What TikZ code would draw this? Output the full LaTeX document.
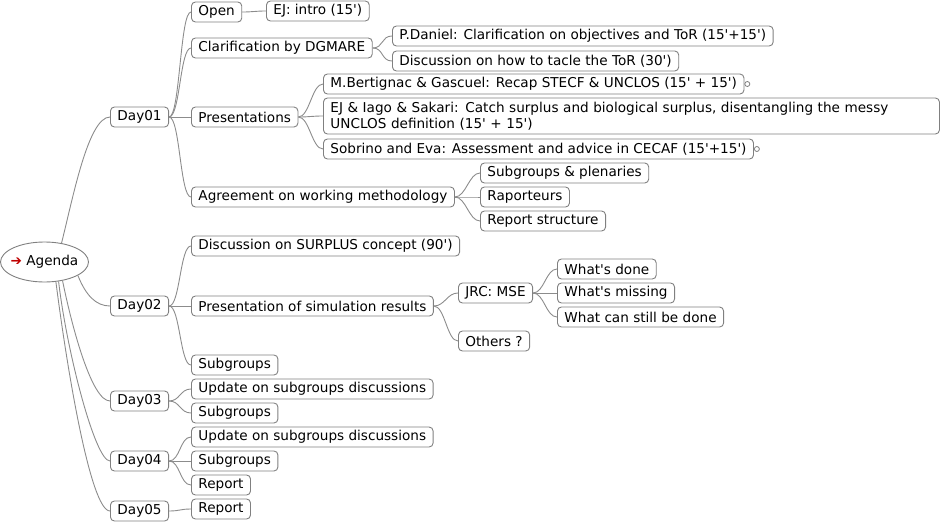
\documentclass[tikz,border=0pt]{standalone}
\usepackage{fontspec}
\newfontfamily\mmfont{DejaVu Sans}
\usetikzlibrary{shapes.geometric}
\definecolor{boxline}{HTML}{808080}
\definecolor{edgeline}{HTML}{8C8C8C}
\definecolor{arrowred}{HTML}{C00000}
\tikzset{
  mmbox/.style={draw=boxline, line width=0.9pt, rounded corners=4pt, fill=white,
    minimum height=20pt, inner xsep=7pt, inner ysep=0pt, anchor=west,
    font=\mmfont\fontsize{13.6}{16}\selectfont, text=black},
  mmroot/.style={draw=boxline, line width=0.9pt, ellipse, fill=white,
    minimum width=88pt, minimum height=40pt, inner sep=0pt},
  mmlabel/.style={inner sep=0pt, font=\mmfont\fontsize{13.6}{16}\selectfont, text=black},
  mmedge/.style={draw=edgeline, line width=0.9pt},
  foldmark/.style={circle, draw=boxline, line width=0.8pt, fill=white, inner sep=0pt, minimum size=5pt, anchor=west}
}
\newcommand{\lnk}[2]{\draw[mmedge] (#1.east) .. controls +(11,0) and +(-11,0) .. (#2.west);}
\begin{document}
\begin{tikzpicture}[x=1pt,y=-1pt]
\useasboundingbox (0,0) rectangle (940,522);
% root
\node[mmroot] (agenda) at (44.5,262) {};
\node[mmlabel] (agendatext) at (agenda.center) {\textcolor{arrowred}{➔}~Agenda};
% days
\node[mmbox] (d1) at (110,117) {Day01};
\node[mmbox] (d2) at (110,306) {Day02};
\node[mmbox] (d3) at (110,401) {Day03};
\node[mmbox] (d4) at (110,461) {Day04};
\node[mmbox] (d5) at (110,511) {Day05};
% day01
\node[mmbox] (open) at (191,12) {Open};
\node[mmbox] (intro) at (266,11) {EJ: intro (15')};
\node[mmbox] (clar) at (191,48) {Clarification by DGMARE};
\node[mmbox] (pdan) at (392,36) {P.Daniel: Clarification on objectives and ToR (15'+15')};
\node[mmbox] (disc) at (392,61) {Discussion on how to tacle the ToR (30')};
\node[mmbox] (pres) at (191,117) {Presentations};
\node[mmbox] (bert) at (323,84) {M.Bertignac \& Gascuel: Recap STECF \& UNCLOS (15' + 15')};
\node[mmbox, align=left, text width=602pt, minimum height=36pt, inner ysep=2pt] (ejia) at (323,116) {EJ \& Iago \& Sakari: Catch surplus and biological surplus, disentangling the messy\\UNCLOS definition (15' + 15')};
\node[mmbox] (sobr) at (323,149) {Sobrino and Eva: Assessment and advice in CECAF (15'+15')};
\node[foldmark] (bertf) at (bert.east) {};
\node[foldmark] (sobrf) at (sobr.east) {};
\node[mmbox] (agree) at (191,197) {Agreement on working methodology};
\node[mmbox] (subpl) at (480,173) {Subgroups \& plenaries};
\node[mmbox] (rapp) at (480,197) {Raporteurs};
\node[mmbox] (rstr) at (480,221) {Report structure};
% day02
\node[mmbox] (surp) at (191,246) {Discussion on SURPLUS concept (90')};
\node[mmbox] (sim) at (191,306) {Presentation of simulation results};
\node[mmbox] (jrc) at (458,293) {JRC: MSE};
\node[mmbox] (oth) at (458,341) {Others ?};
\node[mmbox] (wdone) at (557,269) {What's done};
\node[mmbox] (wmiss) at (557,293) {What's missing};
\node[mmbox] (wcan) at (557,317) {What can still be done};
\node[mmbox] (sub2) at (191,365) {Subgroups};
% day03
\node[mmbox] (up3) at (191,389) {Update on subgroups discussions};
\node[mmbox] (sub3) at (191,413) {Subgroups};
% day04
\node[mmbox] (up4) at (191,437) {Update on subgroups discussions};
\node[mmbox] (sub4) at (191,461) {Subgroups};
\node[mmbox] (rep4) at (191,485) {Report};
% day05
\node[mmbox] (rep5) at (191,509) {Report};
% root edges
\draw[mmedge] (agenda.48) .. controls +(11,-43) and +(-22,0) .. (d1.west);
\draw[mmedge] (agenda.-22) .. controls +(8,20) and +(-14,0) .. (d2.west);
\draw[mmedge] (agenda.-46) .. controls +(10,49) and +(-18,0) .. (d3.west);
\draw[mmedge] (agenda.-54) .. controls +(8,69) and +(-15,0) .. (d4.west);
\draw[mmedge] (agenda.-60) .. controls +(10,79) and +(-20,0) .. (d5.west);
% other edges
\lnk{d1}{open}\lnk{d1}{clar}\lnk{d1}{pres}\lnk{d1}{agree}
\lnk{open}{intro}
\lnk{clar}{pdan}\lnk{clar}{disc}
\lnk{pres}{bert}\lnk{pres}{ejia}\lnk{pres}{sobr}
\lnk{agree}{subpl}\lnk{agree}{rapp}\lnk{agree}{rstr}
\lnk{d2}{surp}\lnk{d2}{sim}\lnk{d2}{sub2}
\lnk{sim}{jrc}\lnk{sim}{oth}
\lnk{jrc}{wdone}\lnk{jrc}{wmiss}\lnk{jrc}{wcan}
\lnk{d3}{up3}\lnk{d3}{sub3}
\lnk{d4}{up4}\lnk{d4}{sub4}\lnk{d4}{rep4}
\lnk{d5}{rep5}
\end{tikzpicture}
\end{document}
